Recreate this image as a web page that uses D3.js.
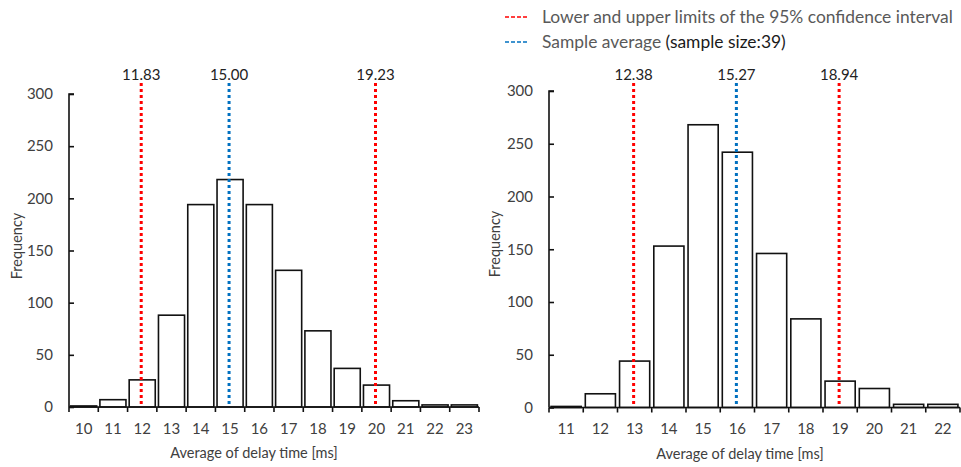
<!DOCTYPE html>
<html><head><meta charset="utf-8">
<script src="https://cdn.jsdelivr.net/npm/d3@7"></script>
<style>body{margin:0;background:#fff;} text{font-family:Lato,"Open Sans",sans-serif;}</style>
</head><body>
<svg id="c" width="961" height="467"></svg>
<script>
// ---- data ----
const leftCategories = [10,11,12,13,14,15,16,17,18,19,20,21,22,23];
const leftFrequency  = [1,7,26,88,194,218,194,131,73,37,21,6,2,2];
const leftLimits = [{label:"11.83", bin:12},{label:"19.23", bin:20}];
const leftMean   = {label:"15.00", bin:15};

const rightCategories = [11,12,13,14,15,16,17,18,19,20,21,22];
const rightFrequency  = [1,13,44,153,268,242,146,84,25,18,3,3];
const rightLimits = [{label:"12.38", bin:13},{label:"18.94", bin:19}];
const rightMean   = {label:"15.27", bin:16};

const yTicks = [0,50,100,150,200,250,300];
const legendItems = ["Lower and upper limits of the 95% confidence interval","Sample average"];
const xTitle = "Average of delay time [ms]";
const yTitle = "Frequency";

const RED = "#ff0000", BLUE = "#0070c0", TXT = "#404040";
const svg = d3.select("#c");

function fitText(sel, w){
  const n = sel.node(); const fs = parseFloat(sel.attr("font-size"));
  const l = n.getComputedTextLength(); sel.attr("font-size", (fs*w/l).toFixed(2));
}

function panel(cfg){
  const g = svg.append("g");
  const x = d3.scaleBand().domain(cfg.cats).range([cfg.x0, cfg.x1]).paddingInner(cfg.pad).paddingOuter(cfg.pad/2);
  const y = d3.scaleLinear().domain([0,300]).range([cfg.y0, cfg.yTop]);
  // bars
  g.selectAll("rect.bar").data(cfg.cats.map((c,i)=>({c, v:cfg.vals[i]}))).join("rect")
    .attr("x", d=>x(d.c)).attr("width", x.bandwidth())
    .attr("y", d=>y(d.v)).attr("height", d=>y(0)-y(d.v))
    .attr("fill","#fff").attr("stroke","#111").attr("stroke-width",1.6);
  // y axis
  const ya = g.append("g").attr("transform",`translate(${cfg.x0},0)`)
    .call(d3.axisRight(y).tickValues(yTicks).tickSize(5).tickFormat(d3.format("d")));
  ya.select(".domain").attr("stroke","#111").attr("stroke-width",1.6).attr("d",`M5,${cfg.yTop}H0V${cfg.y0}`);
  ya.selectAll(".tick line").attr("stroke","#111").attr("stroke-width",1.6);
  ya.selectAll(".tick text").attr("x",-cfg.tickLabelGap).attr("text-anchor","end")
    .attr("font-size",15).attr("fill",TXT).attr("font-family","Lato");
  // x axis
  const xa = g.append("g").attr("transform",`translate(0,${cfg.y0})`)
    .call(d3.axisBottom(x).tickSize(0).tickPadding(16));
  xa.select(".domain").attr("stroke","#111").attr("stroke-width",1.6).attr("d",`M${cfg.x0},0H${cfg.x1}`);
  xa.selectAll(".tick text").attr("font-size",15).attr("fill",TXT).attr("font-family","Lato").attr("dy","0.71em");
  const step = x.step();
  const bounds = d3.range(cfg.cats.length+1).map(i=>cfg.x0 + i*step);
  xa.selectAll("line.bt").data(bounds).join("line").attr("class","bt")
    .attr("x1",d=>d).attr("x2",d=>d).attr("y1",0).attr("y2",5)
    .attr("stroke","#111").attr("stroke-width",1.6);
  // reference lines
  const lines = cfg.limits.map(l=>({...l, col:RED})).concat([{...cfg.mean, col:BLUE}]);
  lines.forEach(l=>{
    const cx = x(l.bin) + x.bandwidth()/2 - 1;
    g.append("line").attr("x1",cx).attr("x2",cx).attr("y1",cfg.lineTop).attr("y2",cfg.y0-1)
      .attr("stroke",l.col).attr("stroke-width",3).attr("stroke-dasharray","3,3");
    g.append("text").attr("x",cx).attr("y",cfg.lineTop-3).attr("text-anchor","middle")
      .attr("font-size",15).attr("fill","#222").text(l.label);
  });
  // titles
  g.append("text").attr("x",cfg.xTitleX).attr("y",cfg.y0+51).attr("text-anchor","middle")
    .attr("font-size",14.5).attr("fill",TXT).text(xTitle);
  g.append("text").attr("transform",`translate(${cfg.yTitleX},${cfg.yTitleY}) rotate(-90)`)
    .attr("text-anchor","middle").attr("font-size",14.5).attr("fill",TXT).text(yTitle);
}

panel({cats:leftCategories, vals:leftFrequency, limits:leftLimits, mean:leftMean,
  x0:69, x1:479, y0:407, yTop:94, pad:0.11, tickLabelGap:16, lineTop:83,
  xTitleX:254, yTitleX:22, yTitleY:246});
panel({cats:rightCategories, vals:rightFrequency, limits:rightLimits, mean:rightMean,
  x0:549, x1:960, y0:407.5, yTop:91, pad:0.12, tickLabelGap:16, lineTop:83,
  xTitleX:740, yTitleX:500, yTitleY:244});

// legend
const lg = svg.append("g");
[RED, BLUE].forEach((col,i)=>{
  const yy = 17 + i*25;
  lg.append("line").attr("x1",505).attr("x2",528).attr("y1",yy).attr("y2",yy)
    .attr("stroke",col).attr("stroke-width",1.6).attr("stroke-dasharray","4,2");
});
const t1 = lg.append("text").attr("x",542).attr("y",23).attr("font-size",17).attr("fill","#595959").text(legendItems[0]);
fitText(t1, 411);
const fs = t1.attr("font-size");
const t2 = lg.append("text").attr("x",542).attr("y",48).attr("font-size",fs).attr("fill","#595959");
t2.append("tspan").text(legendItems[1]+" ");
t2.append("tspan").attr("fill","#1a1a1a").text("(sample size:39)");
</script>
</body></html>
